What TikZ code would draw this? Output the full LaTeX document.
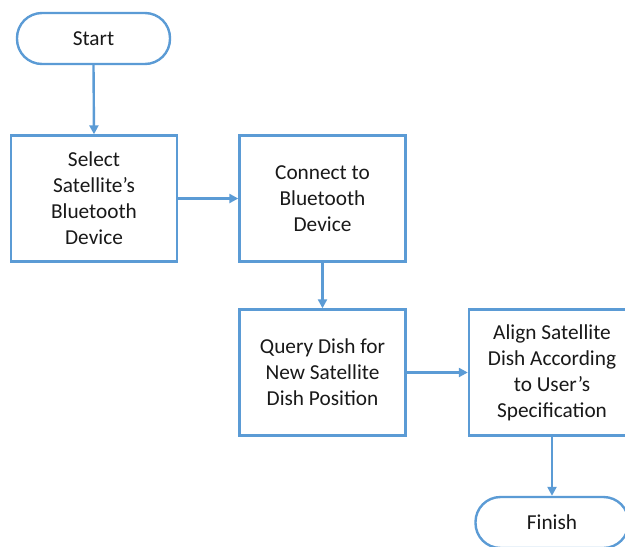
\documentclass[tikz,border=0pt]{standalone}
\usepackage{fontspec}
\setmainfont{Carlito}
\usetikzlibrary{arrows.meta}
\definecolor{flowblue}{HTML}{5B9BD5}
\begin{document}
\begin{tikzpicture}[x=1pt,y=-1pt,
  base/.style={draw=flowblue,line width=2.4pt,fill=white,align=center,inner sep=0pt,
     font=\fontsize{21.3}{26}\selectfont,text=black!90},
  procbox/.style={base,rectangle,minimum width=166pt,minimum height=126pt},
  termbox/.style={base,rectangle,rounded corners=25pt,minimum width=153pt,minimum height=51pt},
  flow/.style={draw=flowblue,line width=2.4pt,-{Triangle[length=9pt,width=9pt]}}]
\useasboundingbox (0,0) rectangle (625,547);
\clip (0,0) rectangle (625,547);
\node[termbox] (start) at (93.5,38.5) {Start};
\node[procbox] (sel) at (94,198.5) {Select\\Satellite’s\\Bluetooth\\Device};
\node[procbox] (con) at (322.5,198.5) {Connect to\\Bluetooth\\Device};
\node[procbox] (qry) at (322.5,372.5) {Query Dish for\\New Satellite\\Dish Position};
\node[procbox] (aln) at (552,372.5) {Align Satellite\\Dish According\\to User’s\\Specification};
\node[termbox] (fin) at (552,522.5) {Finish};
\draw[flow] (start.south) -- (sel.north);
\draw[flow] (sel.east) -- (con.west);
\draw[flow] (con.south) -- (qry.north);
\draw[flow] (qry.east) -- (aln.west);
\draw[flow] (aln.south) -- (fin.north);
\end{tikzpicture}
\end{document}
